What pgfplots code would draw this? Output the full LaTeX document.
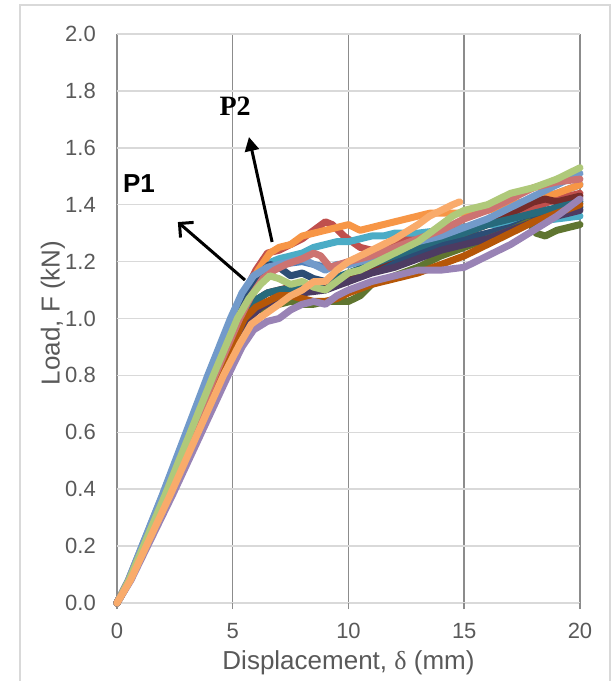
\documentclass[border=0pt]{standalone}
\usepackage{fontspec}
\setmainfont{Liberation Sans}
\newfontfamily\seriffont{Liberation Serif}
\usepackage{pgfplots}
\pgfplotsset{compat=1.18}
\usetikzlibrary{arrows.meta}
\definecolor{labelgray}{HTML}{595959}
\definecolor{griddark}{HTML}{8C8C8C}
\definecolor{gridlight}{HTML}{D9D9D9}
\definecolor{cblue}{HTML}{4F81BD}
\definecolor{cred}{HTML}{C0504D}
\definecolor{caqua}{HTML}{4BACC6}
\definecolor{corange}{HTML}{F79646}
\definecolor{cdblue}{HTML}{2C4D75}
\definecolor{cdred}{HTML}{772C2A}
\definecolor{cdgreen}{HTML}{5F7530}
\definecolor{cdpurple}{HTML}{4D3B62}
\definecolor{cdaqua}{HTML}{276A7C}
\definecolor{cdorange}{HTML}{B65708}
\definecolor{clblue}{HTML}{729ACA}
\definecolor{cpink}{HTML}{CD7371}
\definecolor{clgreen}{HTML}{AFC97A}
\definecolor{clpurple}{HTML}{9983B5}
\definecolor{clorange}{HTML}{F9AB6B}
\begin{document}
\begin{tikzpicture}
\begin{axis}[
  scale only axis, width=463pt, height=569pt,
  xmin=0, xmax=20, ymin=0, ymax=2,
  clip=false,
  xtick={0,5,10,15,20},
  ytick={0,0.2,0.4,0.6,0.8,1.0,1.2,1.4,1.6,1.8,2.0},
  /pgf/number format/assume math mode=true,
  ticklabel style={font=\fontsize{22}{26}\selectfont, text=labelgray, inner sep=0pt},
  yticklabel style={/pgf/number format/fixed, /pgf/number format/fixed zerofill, /pgf/number format/precision=1, anchor=east, xshift=-15pt},
  xticklabel style={anchor=north, yshift=-14pt},
  grid=major,
  x grid style={draw=griddark, line width=1.5pt},
  y grid style={draw=gridlight, line width=1.5pt},
  axis line style={draw=none},
  xtick pos=left,
  ytick style={draw=none},
  xtick style={draw=griddark, line width=1.5pt},
  major tick length=6pt, tick align=outside,
  every axis plot/.append style={line width=7pt, line join=round, line cap=round, no markers},
]
% blue
\addplot[cblue] coordinates {(0,0)(0.5,0.08)(0.99,0.18)(1.98,0.38)(2.97,0.59)(3.96,0.80)(4.95,1.0)(5.45,1.09)(5.95,1.15)(6.5,1.18)(7,1.19)(8,1.20)(9,1.18)(10,1.19)(11,1.21)(12,1.24)(13,1.27)(14,1.29)(15,1.31)(16,1.34)(17,1.37)(18,1.41)(19,1.44)(20,1.47)};
% red
\addplot[cred] coordinates {(0,0)(0.5,0.08)(1,0.18)(2,0.38)(3,0.59)(4,0.80)(5,1.0)(5.5,1.09)(6,1.17)(6.5,1.23)(7,1.24)(7.5,1.26)(8,1.28)(8.5,1.31)(9,1.34)(9.3,1.33)(9.8,1.29)(10.5,1.25)(11,1.24)(11.5,1.25)(12,1.26)(12.5,1.28)(13,1.29)(14,1.30)(15,1.32)(16,1.34)(17,1.37)(18,1.39)(19,1.42)(20,1.44)};
% aqua
\addplot[caqua] coordinates {(0,0)(0.52,0.08)(1.03,0.18)(2.06,0.38)(3.09,0.59)(4.12,0.80)(5.15,1.0)(5.7,1.1)(6.2,1.17)(6.7,1.2)(7,1.21)(7.5,1.22)(8,1.23)(8.5,1.25)(9,1.26)(9.5,1.27)(10,1.27)(10.5,1.28)(11,1.29)(11.5,1.29)(12,1.30)(13,1.30)(14,1.31)(15,1.32)(16,1.33)(17,1.33)(18,1.34)(19,1.35)(20,1.36)};
% orange
\addplot[corange] coordinates {(0,0)(0.51,0.08)(1.02,0.18)(2.04,0.38)(3.06,0.59)(4.08,0.80)(5.1,1.0)(5.6,1.09)(6.1,1.17)(6.6,1.23)(7,1.25)(7.5,1.26)(8,1.29)(8.5,1.30)(9,1.31)(9.5,1.32)(10,1.33)(10.5,1.31)(11,1.32)(11.5,1.33)(12,1.34)(12.5,1.35)(13,1.36)(13.5,1.37)(14,1.37)(15,1.37)(16,1.38)(17,1.40)(18,1.42)(19,1.44)(20,1.47)};
% dark blue
\addplot[cdblue] coordinates {(0,0)(0.52,0.08)(1.04,0.18)(2.08,0.38)(3.12,0.59)(4.16,0.80)(5.2,1.0)(5.7,1.09)(6.2,1.16)(6.6,1.19)(7,1.18)(7.5,1.15)(8,1.16)(8.5,1.14)(9,1.13)(9.5,1.13)(10,1.14)(11,1.17)(12,1.20)(13,1.23)(14,1.26)(15,1.28)(16,1.30)(17,1.32)(18,1.35)(19,1.37)(20,1.39)};
% dark red
\addplot[cdred] coordinates {(0,0)(0.54,0.08)(1.08,0.18)(2.16,0.38)(3.24,0.59)(4.32,0.80)(5.4,1.0)(5.9,1.06)(6.5,1.09)(7,1.10)(7.5,1.11)(8,1.10)(9,1.12)(10,1.15)(11,1.18)(12,1.22)(13,1.26)(14,1.29)(14.5,1.31)(15,1.30)(16,1.33)(17,1.37)(18,1.41)(18.5,1.42)(19,1.41)(20,1.43)};
% dark green
\addplot[cdgreen] coordinates {(0,0)(0.56,0.08)(1.12,0.18)(2.24,0.38)(3.36,0.59)(4.48,0.80)(5.6,1.0)(6.1,1.03)(6.6,1.04)(7,1.05)(7.5,1.06)(8,1.05)(8.5,1.05)(9,1.06)(9.5,1.06)(10,1.06)(10.5,1.08)(11,1.12)(12,1.15)(13,1.18)(14,1.22)(15,1.25)(16,1.28)(17,1.31)(17.8,1.34)(18.1,1.30)(18.5,1.29)(19,1.31)(19.5,1.32)(20,1.33)};
% dark purple
\addplot[cdpurple] coordinates {(0,0)(0.57,0.08)(1.14,0.18)(2.28,0.38)(3.42,0.59)(4.56,0.80)(5.7,1.0)(6.2,1.04)(6.7,1.06)(7,1.07)(8,1.09)(9,1.10)(10,1.13)(11,1.16)(12,1.18)(13,1.21)(14,1.24)(15,1.26)(16,1.28)(17,1.31)(18,1.34)(19,1.36)(20,1.38)};
% dark aqua
\addplot[cdaqua] coordinates {(0,0)(0.54,0.08)(1.08,0.18)(2.16,0.38)(3.24,0.59)(4.32,0.80)(5.4,1.0)(5.9,1.06)(6.5,1.09)(7,1.10)(8,1.11)(9,1.13)(10,1.16)(11,1.19)(12,1.22)(13,1.25)(14,1.28)(15,1.30)(16,1.33)(17,1.35)(18,1.37)(19,1.39)(20,1.41)};
% dark orange
\addplot[cdorange] coordinates {(0,0)(0.55,0.08)(1.1,0.18)(2.2,0.38)(3.3,0.59)(4.4,0.80)(5.5,1.0)(6,1.04)(6.5,1.06)(7,1.08)(7.5,1.08)(8,1.07)(8.5,1.06)(9,1.06)(9.5,1.07)(10,1.09)(11,1.12)(12,1.14)(13,1.16)(14,1.19)(15,1.22)(16,1.26)(17,1.30)(18,1.34)(19,1.37)(20,1.40)};
% light blue
\addplot[clblue] coordinates {(0,0)(0.49,0.08)(0.98,0.18)(1.96,0.38)(2.94,0.59)(3.92,0.80)(4.9,1.0)(5.4,1.09)(5.9,1.15)(6.5,1.18)(7,1.19)(7.5,1.20)(8,1.21)(8.5,1.19)(9,1.17)(9.5,1.19)(10,1.19)(11,1.21)(12,1.24)(13,1.27)(14,1.29)(15,1.32)(16,1.35)(17,1.39)(18,1.43)(19,1.47)(20,1.51)};
% pink
\addplot[cpink] coordinates {(0,0)(0.53,0.08)(1.06,0.18)(2.12,0.38)(3.18,0.59)(4.24,0.80)(5.3,1.0)(5.8,1.08)(6.3,1.14)(6.8,1.17)(7.3,1.19)(8,1.21)(8.5,1.23)(8.8,1.22)(9.2,1.18)(9.6,1.19)(10,1.20)(11,1.22)(12,1.25)(13,1.28)(14,1.31)(15,1.35)(16,1.38)(17,1.42)(18,1.46)(19,1.48)(20,1.49)};
% light green
\addplot[clgreen] coordinates {(0,0)(0.52,0.08)(1.04,0.18)(2.08,0.38)(3.12,0.59)(4.16,0.80)(5.2,1.0)(5.7,1.07)(6.2,1.12)(6.6,1.15)(7,1.14)(7.5,1.12)(8,1.13)(8.5,1.11)(9,1.10)(9.5,1.13)(10,1.16)(10.5,1.17)(11,1.19)(12,1.23)(13,1.27)(13.5,1.30)(14,1.33)(14.5,1.36)(15,1.38)(15.5,1.39)(16,1.40)(17,1.44)(18,1.46)(19,1.49)(20,1.53)};
% light purple
\addplot[clpurple] coordinates {(0,0)(0.6,0.08)(1.2,0.18)(2.4,0.38)(3.6,0.59)(4.8,0.80)(5.4,0.90)(5.9,0.96)(6.5,0.99)(7,1.0)(7.5,1.03)(8,1.05)(8.5,1.06)(9,1.05)(9.5,1.08)(10,1.10)(11,1.13)(12,1.15)(13,1.17)(14,1.17)(15,1.18)(16,1.22)(17,1.26)(18,1.31)(19,1.36)(20,1.42)};
% light orange
\addplot[clorange] coordinates {(0,0)(0.58,0.08)(1.15,0.18)(2.3,0.38)(3.45,0.59)(4.6,0.80)(5.3,0.91)(5.8,0.98)(6.3,1.01)(7,1.05)(7.5,1.08)(8,1.10)(8.5,1.13)(9,1.13)(9.5,1.17)(10,1.20)(11,1.24)(12,1.28)(13,1.33)(13.5,1.36)(14,1.38)(14.5,1.40)(14.8,1.41)};
% annotations
\draw[line width=3pt, -{Straight Barb[length=10pt,width=20pt,line width=3pt]}] (axis cs:5.53,1.135) -- (axis cs:2.63,1.339);
\draw[line width=3pt, -{Triangle[length=14pt,width=14pt]}] (axis cs:6.7,1.269) -- (axis cs:5.70,1.638);
\node[font=\bfseries\fontsize{26}{30}\selectfont] at (axis cs:0.95,1.476) {P1};
\node[font=\seriffont\bfseries\fontsize{28}{32}\selectfont] at (axis cs:5.1,1.747) {P2};
\node[rotate=90, font=\fontsize{26}{30}\selectfont, text=labelgray] at ([xshift=-64pt]rel axis cs:0,0.51) {Load, F (kN)};
\node[font=\fontsize{26}{30}\selectfont, text=labelgray] at ([yshift=-60pt]rel axis cs:0.5,0) {Displacement, {\seriffont δ} (mm)};
\end{axis}
\draw[gridlight, line width=1.5pt] (-97pt,-95pt) rectangle (493pt,598pt);
\pgfresetboundingbox
\useasboundingbox (-117pt,-78pt) rectangle (495pt,603pt);
\end{tikzpicture}
\end{document}
